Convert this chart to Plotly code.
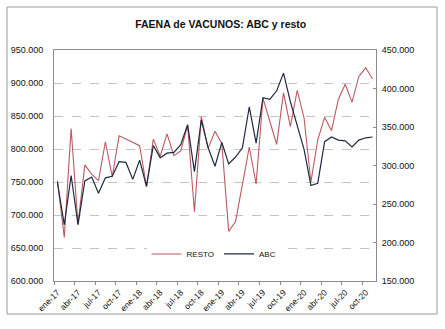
import plotly.graph_objects as go

# Monthly slaughter (head), Jan-2017 .. Nov-2020
months = ["ene-17", "feb-17", "mar-17", "abr-17", "may-17", "jun-17", "jul-17", "ago-17",
          "sep-17", "oct-17", "nov-17", "dic-17",
          "ene-18", "feb-18", "mar-18", "abr-18", "may-18", "jun-18", "jul-18", "ago-18",
          "sep-18", "oct-18", "nov-18", "dic-18",
          "ene-19", "feb-19", "mar-19", "abr-19", "may-19", "jun-19", "jul-19", "ago-19",
          "sep-19", "oct-19", "nov-19", "dic-19",
          "ene-20", "feb-20", "mar-20", "abr-20", "may-20", "jun-20", "jul-20", "ago-20",
          "sep-20", "oct-20", "nov-20"]

resto = [752000, 666000, 831000, 686000, 776000, 762000, 752000, 811000, 758000, 820000,
         815000, 810000, 805000, 743000, 815000, 789000, 823000, 790000, 797000, 836000,
         705000, 849000, 801000, 827000, 808000, 675000, 690000, 746000, 803000, 747000,
         877000, 842000, 807000, 885000, 834000, 889000, 847000, 750000, 814000, 848000,
         828000, 875000, 898000, 871000, 910000, 923000, 906000]

abc = [278000, 223000, 287000, 223000, 280000, 285000, 264000, 284000, 286000, 305000,
       304000, 282000, 307000, 273000, 326000, 310000, 316000, 317000, 327000, 353000,
       292000, 359000, 323000, 299000, 330000, 302000, 311000, 323000, 376000, 329000,
       388000, 386000, 397000, 420000, 383000, 351000, 321000, 274000, 277000, 331000,
       337000, 333000, 332000, 324000, 333000, 336000, 337000]

FONT = "Arial, Liberation Sans, sans-serif"
GREY = "#8c8c8c"

x = list(range(len(months)))
label_idx = x[::3]
xrange_ = [-0.5, len(months) - 0.5]

fig = go.Figure()
fig.add_trace(go.Scatter(x=x, y=resto, name="RESTO", mode="lines",
                         line=dict(color="#b85a60", width=1.1)))
fig.add_trace(go.Scatter(x=x, y=abc, name="ABC", mode="lines", yaxis="y2",
                         line=dict(color="#1e2940", width=1.2)))
# invisible carrier so the label axis gets drawn
fig.add_trace(go.Scatter(x=x, y=resto, xaxis="x3", yaxis="y", mode="lines",
                         line=dict(width=0, color="rgba(0,0,0,0)"), opacity=0,
                         showlegend=False, hoverinfo="skip"))

fig.update_layout(
    width=445, height=329,
    margin=dict(l=54, r=69, t=50, b=48),
    paper_bgcolor="white", plot_bgcolor="white",
    separators=",.",
    font=dict(family=FONT, size=9, color="#111111"),
    title=dict(text="<b>FAENA de VACUNOS: ABC y resto</b>",
               x=0.496, xanchor="center", y=1 - 24.5 / 329, yanchor="middle",
               font=dict(family=FONT, size=10.5, color="#111111")),
    showlegend=True,
    legend=dict(orientation="h", x=0.497, y=0.117, xanchor="center", yanchor="middle",
                bgcolor="white", font=dict(family=FONT, size=8), itemwidth=30,
                tracegroupgap=0, traceorder="normal"),
    # tick marks on the month boundaries
    xaxis=dict(range=xrange_, tickmode="array",
               tickvals=[i - 0.5 for i in label_idx], ticktext=["" for _ in label_idx],
               ticks="outside", ticklen=3, tickcolor=GREY, showgrid=False, zeroline=False,
               showline=True, linecolor=GREY, linewidth=1, mirror=True, fixedrange=True),
    # month labels centred on each point
    xaxis3=dict(range=xrange_, overlaying="x", anchor="y", side="bottom",
                tickmode="array", tickvals=label_idx,
                ticktext=[months[i] for i in label_idx], tickangle=-45,
                ticks="", ticklabelstandoff=4, showgrid=False, zeroline=False,
                showline=False, tickfont=dict(family=FONT, size=8.5)),
    yaxis=dict(range=[600000, 950000], tick0=600000, dtick=50000, tickformat=",d",
               showgrid=True, gridcolor="#c4c4c4", griddash="dash", gridwidth=1,
               zeroline=False, ticks="", ticklabelstandoff=8,
               showline=True, linecolor=GREY, linewidth=1, mirror=True),
    yaxis2=dict(range=[150000, 450000], tick0=150000, dtick=50000, tickformat=",d",
                overlaying="y", side="right", anchor="x", showgrid=False, zeroline=False,
                ticks="inside", ticklen=3, tickcolor=GREY, ticklabelstandoff=3,
                showline=True, linecolor=GREY, linewidth=1),
)

# outer chart frame
fig.add_shape(type="rect", xref="paper", yref="paper",
              x0=(7 - 54) / 322, x1=(437 - 54) / 322,
              y0=(281 - 314) / 231, y1=(281 - 7) / 231,
              line=dict(color="#9a9a9a", width=1), fillcolor="rgba(0,0,0,0)", layer="below")

fig.write_html("out.html")
